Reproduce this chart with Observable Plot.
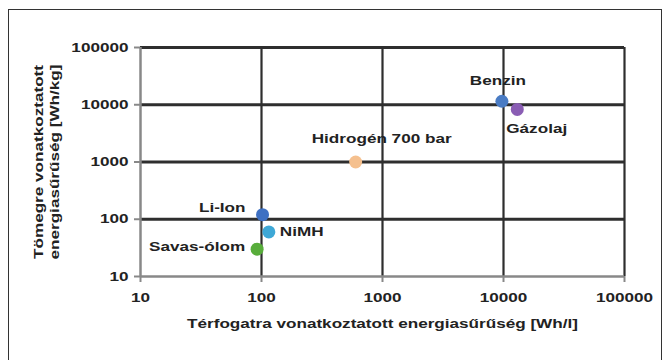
<!DOCTYPE html>
<html><head><meta charset="utf-8">
<script src="https://cdn.jsdelivr.net/npm/d3@7"></script>
<script src="https://cdn.jsdelivr.net/npm/@observablehq/plot@0.6"></script>
<style>
body{margin:0;background:#fff;}
#wrap{position:relative;width:667px;height:360px;overflow:hidden;background:#fff;}
#border{position:absolute;left:8px;top:9px;width:652px;height:400px;border:1.5px solid #333;}
#chart{position:absolute;left:0;top:0;}
</style></head><body>
<div id="wrap"><div id="border"></div><div id="chart"></div></div>
<script>
// Data
const names = ["Benzin", "Gázolaj", "Hidrogén 700 bar", "NiMH", "Savas-ólom", "Li-Ion"];
const volumetric = [9700, 13000, 600, 115, 92, 102];      // Wh/l
const gravimetric = [11500, 8300, 1000, 60, 30, 120];     // Wh/kg
const colors = ["#4a7cc4", "#8a5db4", "#f5c08e", "#3ea8d6", "#58ad3b", "#3e70c2"];
const tickValues = [10, 100, 1000, 10000, 100000];
const xTitle = "Térfogatra vonatkoztatott energiasűrűség [Wh/l]";
const yTitle = "Tömegre vonatkoztatott\nenergiasűrűség [Wh/kg]";

const data = names.map((n, i) => ({name: n, vol: volumetric[i], grav: gravimetric[i]}));
const lbl = (name, opts) => Plot.text(data.filter(d => d.name === name), {x: "vol", y: "grav", text: "name", fill: "#222", ...opts});

const chart = Plot.plot({
  width: 667,
  height: 360,
  marginLeft: 140,
  marginRight: 43,
  marginTop: 47,
  marginBottom: 84,
  style: {fontFamily: "'Liberation Sans', Arial, sans-serif", fontSize: "12.5px", fontWeight: "bold", color: "#222", background: "transparent"},
  x: {type: "log", domain: [10, 100000], axis: null},
  y: {type: "log", domain: [10, 100000], axis: null},
  color: {domain: names, range: colors},
  marks: [
    Plot.ruleX(tickValues.slice(1), {stroke: "#2e2e2e", strokeWidth: 2.2}),
    Plot.ruleY(tickValues.slice(1), {stroke: "#2e2e2e", strokeWidth: 2.8}),
    Plot.ruleX([10], {stroke: "#888", strokeWidth: 2.5}),
    Plot.ruleY([10], {stroke: "#888", strokeWidth: 2.5}),
    Plot.axisX({ticks: tickValues, tickSize: 6, tickPadding: 11, tickFormat: d => String(d), stroke: "#888", strokeWidth: 2, fill: "#222", label: null}),
    Plot.axisY({ticks: tickValues, tickSize: 6, tickPadding: 6, tickFormat: d => String(d), stroke: "#888", strokeWidth: 2, fill: "#222", label: null}),
    Plot.dot(data, {x: "vol", y: "grav", r: 6.5, fill: "name", fillOpacity: 1}),
    lbl("Benzin", {dx: -4, dy: -20}),
    lbl("Gázolaj", {textAnchor: "start", dx: -11, dy: 20}),
    lbl("Hidrogén 700 bar", {dx: 26, dy: -23}),
    lbl("Li-Ion", {textAnchor: "end", dx: -17, dy: -7}),
    lbl("NiMH", {textAnchor: "start", dx: 11, dy: 0}),
    lbl("Savas-ólom", {textAnchor: "end", dx: -12, dy: -2}),
    Plot.text([xTitle], {text: d => d, frameAnchor: "bottom", textAnchor: "middle", dy: 51, fill: "#222"}),
    Plot.text([yTitle], {text: d => d, frameAnchor: "left", textAnchor: "middle", lineAnchor: "middle", rotate: -90, dx: -95, lineHeight: 1.3, fill: "#222"})
  ]
});

// The reference uses a wide bold face: stretch each text along its own direction
chart.querySelectorAll("text").forEach(t => {
  const tr = t.getAttribute("transform");
  if (tr) {
    t.setAttribute("transform", tr + " scale(1.37,1)");
  } else {
    const x = +(t.getAttribute("x") || 0), y = +(t.getAttribute("y") || 0);
    t.removeAttribute("x"); t.removeAttribute("y");
    t.setAttribute("transform", `translate(${x},${y}) scale(1.37,1)`);
  }
});

document.getElementById("chart").appendChild(chart);
</script>
</body></html>
